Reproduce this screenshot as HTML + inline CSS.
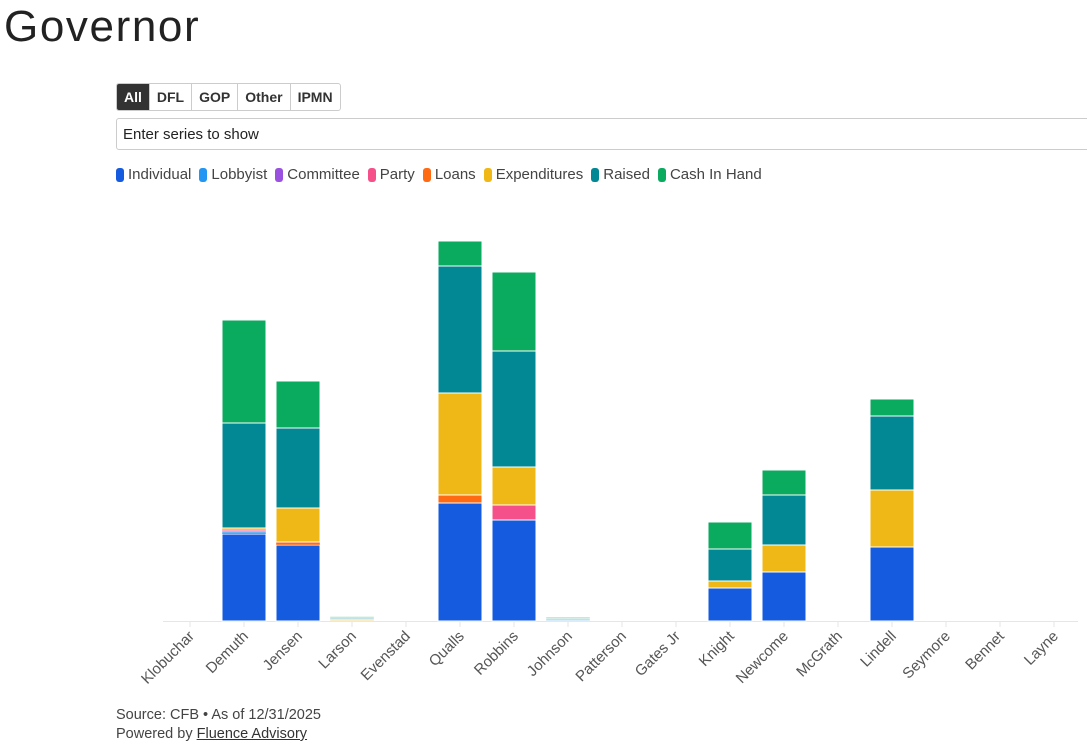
<!DOCTYPE html>
<html><head><meta charset="utf-8"><style>
body{margin:0;width:1087px;height:750px;overflow:hidden;background:#fff;font-family:"Liberation Sans",sans-serif;color:#222}
h1{position:absolute;left:4px;top:2px;margin:0;font-weight:400;font-size:44px;letter-spacing:1.6px}
.btns{position:absolute;left:116px;top:83px;display:flex;border:1px solid #ccc;border-radius:3px;overflow:hidden}
.btns div{padding:0 7px;height:26px;line-height:26px;font-size:14px;font-weight:bold;color:#333;border-left:1px solid #ccc}
.btns div:first-child{background:#333;color:#fff;border-left:none}
.search{position:absolute;left:116px;top:118px;width:980px;height:32px;border:1px solid #ccc;border-radius:3px;box-sizing:border-box;padding-left:6px;line-height:31px;font-size:15px}
.legend{position:absolute;left:116px;top:166px;display:flex;font-size:15px;color:#444}
.legend span{display:flex;align-items:center;margin-right:8px}
.legend i{display:inline-block;width:8px;height:14px;border-radius:3px;margin-right:4px}
.foot{position:absolute;left:116px;top:706px;font-size:14.5px;color:#444;line-height:19px}
.foot u{color:#333}
</style></head><body>
<h1>Governor</h1>
<div class="btns">
<div>All</div><div>DFL</div><div>GOP</div><div>Other</div><div>IPMN</div></div>
<div class="search">Enter series to show</div>
<div class="legend" id="legend"></div>
<svg id="chart" width="1087" height="750" style="position:absolute;left:0;top:0"></svg>
<div class="foot">Source: CFB • As of 12/31/2025<br>Powered by <u>Fluence Advisory</u></div>
<script>
const categories=["Klobuchar","Demuth","Jensen","Larson","Evenstad","Qualls","Robbins","Johnson","Patterson","Gates Jr","Knight","Newcome","McGrath","Lindell","Seymore","Bennet","Layne"];
const seriesNames=["Individual","Lobbyist","Committee","Party","Loans","Expenditures","Raised","Cash In Hand"];
const seriesColors=["#155bdf","#2196f3","#9b51e0","#f5508a","#ff6a13","#f0b816","#028894","#0aaa5f"];
const individual=[0,87,76,0,0,118,101,0,0,0,33,49,0,74,0,0,0];
const lobbyist=[0,2,0,0,0,0,0,1,0,0,0,0,0,0,0,0,0];
const committee=[0,1,0,0,0,0,0,0,0,0,0,0,0,0,0,0,0];
const party=[0,1,0,0,0,0,15,0,0,0,0,0,0,0,0,0,0];
const loans=[0,0,3,0,0,8,0,0,0,0,0,0,0,0,0,0,0];
const expenditures=[0,2,34,1.5,0,102,38,0,0,0,7,27,0,57,0,0,0];
const raised=[0,105,80,1.5,0,127,116,1.5,0,0,32,50,0,74,0,0,0];
const cashInHand=[0,103,47,1.5,0,25,79,1.5,0,0,27,25,0,17,0,0,0];
const series=[individual,lobbyist,committee,party,loans,expenditures,raised,cashInHand];
const NS="http://www.w3.org/2000/svg";
const svg=document.getElementById('chart');
const base=621,x0=190,step=54,bw=44,pxPerUnit=1;
const xScale=i=>x0+i*step;
const yScale=v=>base-v*pxPerUnit;
const lg=document.getElementById('legend');
seriesNames.forEach((n,k)=>{const s=document.createElement('span');


s.innerHTML='<i style="background:'+seriesColors[k]+'"></i>'+n;lg.appendChild(s);});
function el(t,a){const e=document.createElementNS(NS,t);for(const k in a)e.setAttribute(k,a[k]);svg.appendChild(e);return e;}
const ax=el('line',{x1:163,x2:1078,y1:base+0.5,y2:base+0.5,stroke:'#e6e6e6'});


categories.forEach((c,i)=>{
 const x=xScale(i);
 const tk=el('line',{x1:x,x2:x,y1:base,y2:base+6,stroke:'#e6e6e6'});
 
 
 let cum=0;
 series.forEach((arr,k)=>{const v=arr[i];if(!v)return;
  const y1=yScale(cum),y2=yScale(cum+v);cum+=v;
  const r=el('rect',{x:x-bw/2,y:y2,width:bw,height:y1-y2,fill:seriesColors[k],stroke:'#fff','stroke-width':(y1-y2)<4?0.4:1});
  if(i===3||i===7)r.setAttribute('opacity','0.3');
  
  
 });
 const lx=x+5,ly=base+16;
 const t=el('text',{x:lx,y:ly,'text-anchor':'end',transform:'rotate(-45 '+lx+' '+ly+')','font-size':15,fill:'#555','font-family':'Liberation Sans, sans-serif'});
 t.textContent=c;
 
 
});
</script>
</body></html>
